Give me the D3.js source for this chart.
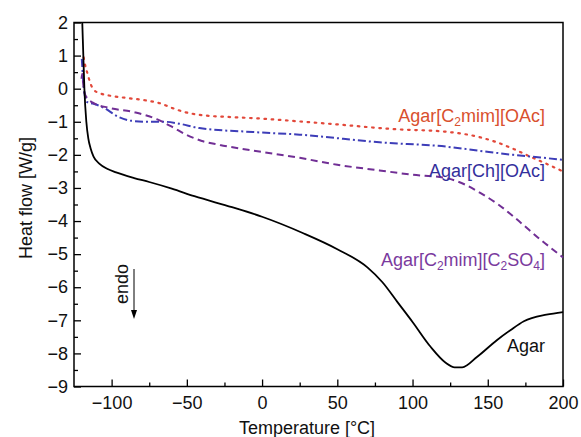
<!DOCTYPE html>
<html>
<head>
<meta charset="utf-8">
<script src="https://cdn.jsdelivr.net/npm/d3@7"></script>
<style>
  body { margin: 0; background: #fff; }
  svg { font-family: "Liberation Sans", Arial, Helvetica, sans-serif; }
</style>
</head>
<body>
<script>
// Values (temperature in °C, heat flow in W/g)
const agarT    = [-119.5, -118.8, -118.1, -116.8, -115.5, -114, -112, -108, -103, -97, -85, -75, -60, -45, -20, 0, 27, 50, 70, 80, 90, 100, 112, 122, 128, 133, 143, 156, 165, 174, 189, 200];
const agarFlow = [2.0, 1.0, 0.0, -1.0, -1.5, -1.8, -2.05, -2.27, -2.42, -2.53, -2.7, -2.82, -3.02, -3.25, -3.58, -3.87, -4.36, -4.85, -5.4, -5.85, -6.45, -7.05, -7.8, -8.28, -8.42, -8.42, -8.1, -7.6, -7.3, -7.03, -6.83, -6.75];

const oacT    = [-118.6, -118, -116, -114, -112, -107, -100, -90, -78, -68, -60, -52, -41.7, -20, -6, 25, 50, 78, 87, 122, 145, 156, 167, 178, 189, 200];
const oacFlow = [0.95, 0.8, 0.45, 0.15, -0.03, -0.15, -0.22, -0.28, -0.35, -0.44, -0.58, -0.7, -0.79, -0.86, -0.89, -0.99, -1.08, -1.19, -1.22, -1.3, -1.47, -1.62, -1.82, -2.05, -2.27, -2.5];

const chT    = [-119.8, -119, -118, -116.5, -112.5, -105, -96, -87, -75, -65, -56, -41.7, -6, 25, 78, 122, 145, 167, 185, 200];
const chFlow = [0.9, 0.3, -0.15, -0.4, -0.45, -0.58, -0.84, -0.97, -1.0, -1.0, -1.05, -1.19, -1.31, -1.39, -1.62, -1.75, -1.88, -2.0, -2.08, -2.15];

const so4T    = [-120, -119.5, -119, -118, -116, -112.5, -101.7, -84, -70, -60, -50, -40, -28, -6, 25, 50, 78, 100, 122, 135, 145, 157, 167, 177, 185, 193, 200];
const so4Flow = [0.3, 0.45, 0.2, -0.13, -0.3, -0.42, -0.58, -0.72, -0.92, -1.15, -1.4, -1.58, -1.7, -1.87, -2.09, -2.3, -2.47, -2.6, -2.7, -2.9, -3.15, -3.5, -3.86, -4.25, -4.56, -4.85, -5.1];

const tempTicks = [-100, -50, 0, 50, 100, 150, 200];
const tempMinor = [-75, -25, 25, 75, 125, 175];
const flowTicks = [-9, -8, -7, -6, -5, -4, -3, -2, -1, 0, 1, 2];
const flowMinor = [-8.5, -7.5, -6.5, -5.5, -4.5, -3.5, -2.5, -1.5, -0.5, 0.5, 1.5];

const width = 581;
const height = 437;
const margin = { top: 22.5, right: 18, bottom: 50.5, left: 74 };

const svg = d3.select('body').append('svg')
  .attr('width', width)
  .attr('height', height);

const x = d3.scaleLinear().domain([-125, 200]).range([margin.left, width - margin.right]);
const y = d3.scaleLinear().domain([-9, 2]).range([height - margin.bottom, margin.top]);

const fmt = d => d < 0 ? '\u2212' + Math.abs(d) : String(d);

// Axes, ticks pointing inwards
svg.append('g')
  .attr('transform', `translate(0,${y(-9)})`)
  .call(d3.axisBottom(x).tickValues(tempTicks).tickSize(-7).tickPadding(10).tickFormat(fmt))
  .call(g => g.select('.domain').remove());
svg.append('g')
  .attr('transform', `translate(0,${y(-9)})`)
  .call(d3.axisBottom(x).tickValues(tempMinor).tickSize(-4).tickFormat(''))
  .call(g => g.select('.domain').remove());

svg.append('g')
  .attr('transform', `translate(${x(-125)},0)`)
  .call(d3.axisLeft(y).tickValues(flowTicks).tickSize(-7).tickPadding(6).tickFormat(fmt))
  .call(g => g.select('.domain').remove());
svg.append('g')
  .attr('transform', `translate(${x(-125)},0)`)
  .call(d3.axisLeft(y).tickValues(flowMinor).tickSize(-4).tickFormat(''))
  .call(g => g.select('.domain').remove());

svg.selectAll('.tick line').attr('stroke', '#000').attr('stroke-width', 1.3);
svg.selectAll('.tick text')
  .attr('fill', '#111')
  .style('font-size', '18px')
  .style('font-family', '"Liberation Sans", Arial, sans-serif');

// Frame
svg.append('rect')
  .attr('x', x(-125))
  .attr('y', y(2))
  .attr('width', x(200) - x(-125))
  .attr('height', y(-9) - y(2))
  .attr('fill', 'none')
  .attr('stroke', '#000')
  .attr('stroke-width', 1.5);

// Curves
const line = d3.line()
  .x(d => x(d[0]))
  .y(d => y(d[1]))
  .curve(d3.curveMonotoneX);

const series = [
  { t: oacT, f: oacFlow, color: '#e2483a', dash: '1.6,5.6', w: 2.2, cap: 'round' },
  { t: chT, f: chFlow, color: '#3d3db8', dash: '8,3,2,3', w: 2, cap: 'butt' },
  { t: so4T, f: so4Flow, color: '#712f95', dash: '7,4.5', w: 2, cap: 'butt' },
  { t: agarT, f: agarFlow, color: '#000', dash: null, w: 1.8, cap: 'butt' }
];

svg.selectAll('path.curve')
  .data(series)
  .enter().append('path')
  .attr('class', 'curve')
  .attr('d', s => line(s.t.map((t, i) => [t, s.f[i]])))
  .attr('fill', 'none')
  .attr('stroke', s => s.color)
  .attr('stroke-width', s => s.w)
  .attr('stroke-linecap', s => s.cap)
  .attr('stroke-dasharray', s => s.dash);

// Curve labels, subscripts as smaller lowered tspans
function label(yPos, color, parts) {
  const t = svg.append('text')
    .attr('x', 545)
    .attr('y', yPos)
    .attr('text-anchor', 'end')
    .attr('fill', color)
    .style('font-size', '18px');
  let low = false;
  parts.forEach(p => {
    const isSub = p.length === 1 && /\d/.test(p);
    const span = t.append('tspan').text(p);
    if (isSub) {
      span.attr('dy', 4).style('font-size', '12px');
      low = true;
    } else if (low) {
      span.attr('dy', -4);
      low = false;
    }
  });
}
label(122, '#d9502e', ['Agar[C', '2', 'mim][OAc]']);
label(177, '#33309c', ['Agar[Ch][OAc]']);
label(266, '#7a3a9e', ['Agar[C', '2', 'mim][C', '2', 'SO', '4', ']']);
label(352, '#111', ['Agar']);

// endo marker
svg.append('text')
  .attr('transform', 'translate(128,284) rotate(-90)')
  .attr('text-anchor', 'middle')
  .attr('fill', '#111')
  .style('font-size', '18px')
  .text('endo');
svg.append('line')
  .attr('x1', 134).attr('x2', 134)
  .attr('y1', 269).attr('y2', 311)
  .attr('stroke', '#000')
  .attr('stroke-width', 1);
svg.append('path')
  .attr('d', 'M131,310 L137,310 L134,319 Z')
  .attr('fill', '#000');

// Axis titles
svg.append('text')
  .attr('x', 307)
  .attr('y', 434)
  .attr('text-anchor', 'middle')
  .attr('fill', '#111')
  .style('font-size', '18px')
  .text('Temperature [°C]');
svg.append('text')
  .attr('transform', 'translate(32,198) rotate(-90)')
  .attr('text-anchor', 'middle')
  .attr('fill', '#111')
  .style('font-size', '18px')
  .text('Heat flow [W/g]');
</script>
</body>
</html>
